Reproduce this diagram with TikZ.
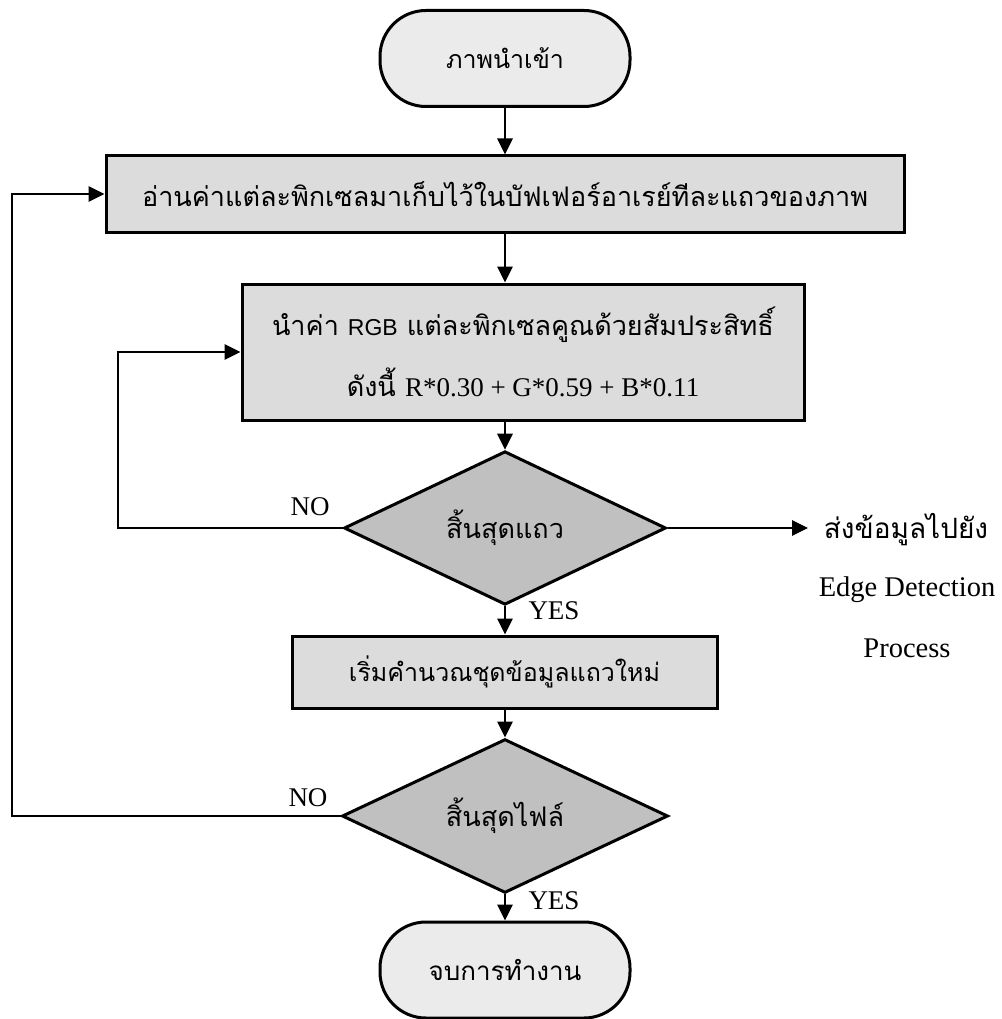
\documentclass[tikz,border=0pt]{standalone}
\usepackage{fontspec}
\setmainfont{Liberation Serif}
\newfontfamily\thai[Script=Thai]{Loma}
\newfontfamily\arial{Liberation Sans}
\usetikzlibrary{shapes.geometric,arrows.meta}
\definecolor{termfill}{RGB}{235,235,235}
\definecolor{procfill}{RGB}{220,220,220}
\definecolor{decfill}{RGB}{192,192,192}
\begin{document}
\begin{tikzpicture}[x=1pt,y=-1pt,
  terminal/.style={draw, line width=3pt, fill=termfill, rounded corners=46pt,
    minimum width=250pt, minimum height=96pt, inner sep=0pt, font=\thai\fontsize{25}{30}\selectfont},
  procbox/.style={draw, line width=3pt, fill=procfill, inner sep=0pt,
    font=\thai\fontsize{27}{30}\selectfont},
  decision/.style={draw, line width=3pt, fill=decfill, diamond, inner sep=0pt,
    font=\thai\fontsize{27}{32}\selectfont},
  flow/.style={line width=2.8pt, -{Triangle[length=16pt,width=15pt]}},
  lbl/.style={font=\fontsize{27}{30}\selectfont, inner sep=0pt},
  side/.style={font=\fontsize{28.5}{30}\selectfont, inner sep=0pt, anchor=center}]
\useasboundingbox (0,0) rectangle (1001,1019);

% main column of steps
\node[terminal] (start) at (505,58.5) {ภาพนำเข้า};
\node[procbox, minimum width=798pt, minimum height=76pt] (read) at (505,194)
  {อ่านค่าแต่ละพิกเซลมาเก็บไว้ในบัฟเฟอร์อาเรย์ทีละแถวของภาพ};
\node[procbox, minimum width=562pt, minimum height=136pt, align=center] (gray) at (523,352)
  {นำค่า {\arial\fontsize{23}{26}\selectfont RGB} แต่ละพิกเซลคูณด้วยสัมประสิทธิ์\\[24pt]
   ดังนี้ {\rmfamily\fontsize{27}{30}\selectfont R*0.30 + G*0.59 + B*0.11}};
\node[decision, minimum width=322pt, minimum height=120pt] (eol) at (505,528) {สิ้นสุดแถว};
\node[procbox, minimum width=425pt, minimum height=72pt, font=\thai\fontsize{25}{30}\selectfont]
  (newrow) at (504.5,672) {เริ่มคำนวณชุดข้อมูลแถวใหม่};
\node[decision, minimum width=326pt, minimum height=118pt] (eof) at (505,816) {สิ้นสุดไฟล์};
\node[terminal, font=\thai\fontsize{26}{30}\selectfont] (stop) at (505,970) {จบการทำงาน};

% output of each finished row
\node[side, font=\thai\fontsize{28}{30}\selectfont] (send) at (906,530) {ส่งข้อมูลไปยัง};
\node[side] (edge) at (907,590) {Edge Detection};
\node[side] (proc) at (907,648) {Process};
\coordinate (sendx) at (808,0);

% connectors
\draw[flow] (start) -- (read);
\draw[flow] (read.south -| start) -- (start |- gray.north);
\draw[flow] (gray.south -| eol) -- (eol.north);
\draw[flow] (eol.south) -- (newrow.north -| eol.south);
\draw[flow] (newrow.south -| eof) -- (eof.north);
\draw[flow] (eof.south) -- (stop.north -| eof.south);
\draw[flow] (eol.east) -- (eol.east -| sendx);

% loops back on NO
\coordinate (rowloop) at (118,352);
\coordinate (fileloop) at (12,194);
\draw[flow] (eol.west) -- (eol.west -| rowloop) -- (rowloop) -- (gray.west);
\draw[flow] (eof.west) -- (eof.west -| fileloop) -- (fileloop) -- (read.west);

% branch labels
\node[lbl] (no1) at (310,507) {NO};
\node[lbl] (yes1) at (554,611) {YES};
\node[lbl] (no2) at (308,798) {NO};
\node[lbl] (yes2) at (554,901) {YES};
\end{tikzpicture}
\end{document}
